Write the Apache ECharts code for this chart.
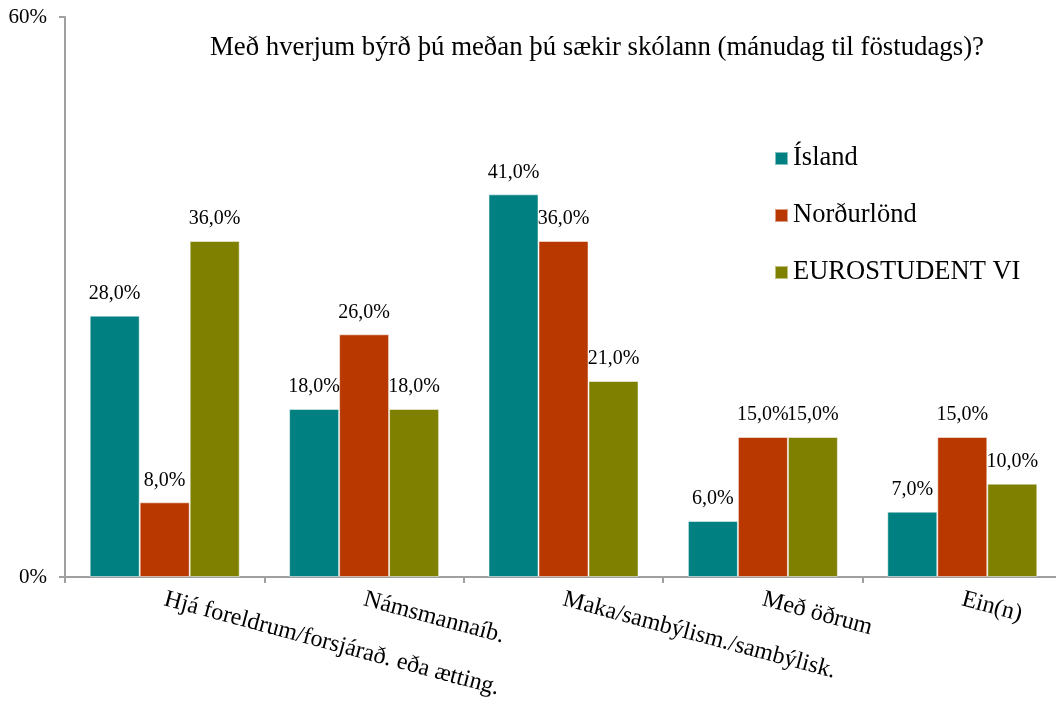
<!DOCTYPE html>
<html>
<head>
<meta charset="utf-8">
<script src="https://cdn.jsdelivr.net/npm/echarts@6/dist/echarts.min.js"></script>
<style>
  html, body { margin: 0; padding: 0; background: #fff; }
  #chart { width: 1056px; height: 704px; }
</style>
</head>
<body>
<div id="chart"></div>
<script>
// flokkar og gildi (%)
var categories = ['Hjá foreldrum/forsjárað. eða ætting.', 'Námsmannaíb.', 'Maka/sambýlism./sambýlisk.', 'Með öðrum', 'Ein(n)']
var island = [28, 18, 41, 6, 7]
var nordurlond = [8, 26, 36, 15, 15]
var eurostudent = [36, 18, 21, 15, 10]
var yTicks = [0, 60]

var font = '"Liberation Serif", "DejaVu Serif", serif'

function barSeries (name, data, color) {
  return {
    name: name,
    type: 'bar',
    data: data,
    barWidth: 50,
    barGap: '0%',
    itemStyle: { color: color, borderColor: 'rgba(255,255,255,0.5)', borderWidth: 1 },
    label: {
      show: true,
      position: 'top',
      distance: 12,
      color: '#000',
      fontFamily: font,
      fontSize: 20,
      formatter: function (p) { return p.value.toFixed(1).replace('.', ',') + '%' }
    }
  }
}

var chart = echarts.init(document.getElementById('chart'))
chart.setOption({
  animation: false,
  textStyle: { fontFamily: font },
  title: {
    text: 'Með hverjum býrð þú meðan þú sækir skólann (mánudag til föstudags)?',
    left: 592,
    top: 29,
    textAlign: 'center',
    textStyle: { fontFamily: font, fontSize: 26.8, fontWeight: 'normal', color: '#000' }
  },
  legend: {
    orient: 'vertical',
    left: 774,
    top: 145,
    padding: 0,
    itemWidth: 13,
    itemHeight: 13,
    itemGap: 30,
    icon: 'rect',
    textStyle: { fontFamily: font, fontSize: 26.5, color: '#000', padding: [0, 0, 0, 0] },
    data: ['Ísland', 'Norðurlönd', 'EUROSTUDENT VI']
  },
  grid: { left: 65, width: 997, top: 17, bottom: 127, containLabel: false, outerBoundsMode: 'none' },
  xAxis: {
    type: 'category',
    data: categories,
    axisLine: { lineStyle: { color: '#a0a0a0', width: 2 } },
    axisTick: { show: true, length: 6, lineStyle: { color: '#a0a0a0', width: 2 } },
    axisLabel: {
      interval: 0,
      rotate: -15,
      margin: 22,
      color: '#000',
      fontFamily: font,
      fontSize: 24
    }
  },
  yAxis: {
    type: 'value',
    min: yTicks[0],
    max: yTicks[1],
    interval: 60,
    splitLine: { show: false },
    axisLine: { show: true, lineStyle: { color: '#a0a0a0', width: 2 } },
    axisTick: { show: true, length: 6, lineStyle: { color: '#a0a0a0', width: 2 } },
    axisLabel: {
      color: '#000',
      fontFamily: font,
      fontSize: 21,
      margin: 18,
      formatter: '{value}%'
    }
  },
  series: [
    barSeries('Ísland', island, '#008080'),
    barSeries('Norðurlönd', nordurlond, '#b83800'),
    barSeries('EUROSTUDENT VI', eurostudent, '#808000')
  ]
})
</script>
</body>
</html>
